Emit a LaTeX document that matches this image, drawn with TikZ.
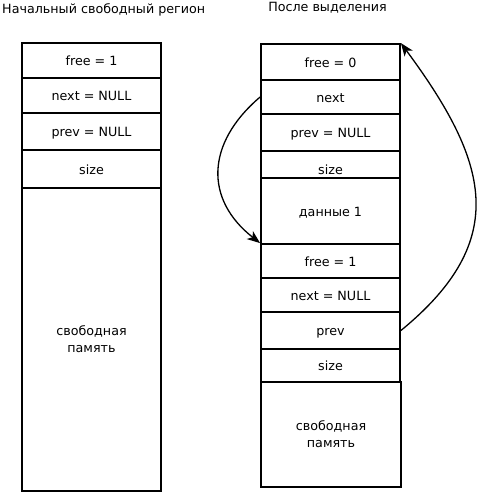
\documentclass[tikz,border=0pt]{standalone}
\usepackage{fontspec}
\setmainfont{DejaVu Sans}
\usetikzlibrary{arrows.meta}
\tikzset{
  cell/.style={draw, line width=1.8pt, rectangle, minimum width=139pt, inner sep=0pt, align=center, font=\fontsize{12.7}{17}\selectfont},
  one/.style={text height=12.5pt, text depth=2.3pt},
  title/.style={inner sep=0pt, font=\fontsize{12.7}{15}\selectfont},
  link/.style={line width=1.3pt, -{Stealth[length=13pt,width=10pt,inset=3.5pt]}},
}
\begin{document}
\begin{tikzpicture}[x=1pt,y=-1pt]
\useasboundingbox (0,0) rectangle (476,492);
\node[title, anchor=west] (t1) at (2,10) {Начальный свободный регион};
\node[title] (t2) at (327.5,8) {После выделения};
% left column
\node[cell, one, minimum height=35pt] (l1) at (91.5,60.5) {free = 1};
\node[cell, one, minimum height=35pt] (l2) at (91.5,95.5) {next = NULL};
\node[cell, one, minimum height=37pt] (l3) at (91.5,131.5) {prev = NULL};
\node[cell, one, minimum height=38pt] (l4) at (91.5,169) {size};
\node[cell, minimum height=303pt] (l5) at (91.5,339.5) {свободная\\память};
% right column
\node[cell, one, minimum height=36pt] (r1) at (330.5,62) {free = 0};
\node[cell, one, minimum height=34pt] (r2) at (330.5,97) {next};
\node[cell, one, minimum height=37pt] (r3) at (330.5,132.5) {prev = NULL};
\node[cell, minimum height=27pt, label={[name=r4t, inner sep=0pt, font=\fontsize{12.7}{17}\selectfont, yshift=-5pt]center:size}] (r4) at (330.5,164.5) {};
\node[cell, one, minimum height=66pt] (r5) at (330.5,211) {данные 1};
\node[cell, one, minimum height=34pt] (r6) at (330.5,261) {free = 1};
\node[cell, one, minimum height=34pt] (r7) at (330.5,295) {next = NULL};
\node[cell, one, minimum height=37pt] (r8) at (330.5,330.5) {prev};
\node[cell, one, minimum height=33pt] (r9) at (330.5,365.5) {size};
\node[cell, minimum height=105pt, minimum width=140pt] (r10) at (331,434.5) {свободная\\память};
% links
\draw[link] (r2.west) .. controls (205,144) and (205,200) .. (r6.north west);
\draw[link] (r8.east) .. controls (512,239.5) and (488,161) .. (r1.north east);
\end{tikzpicture}
\end{document}
